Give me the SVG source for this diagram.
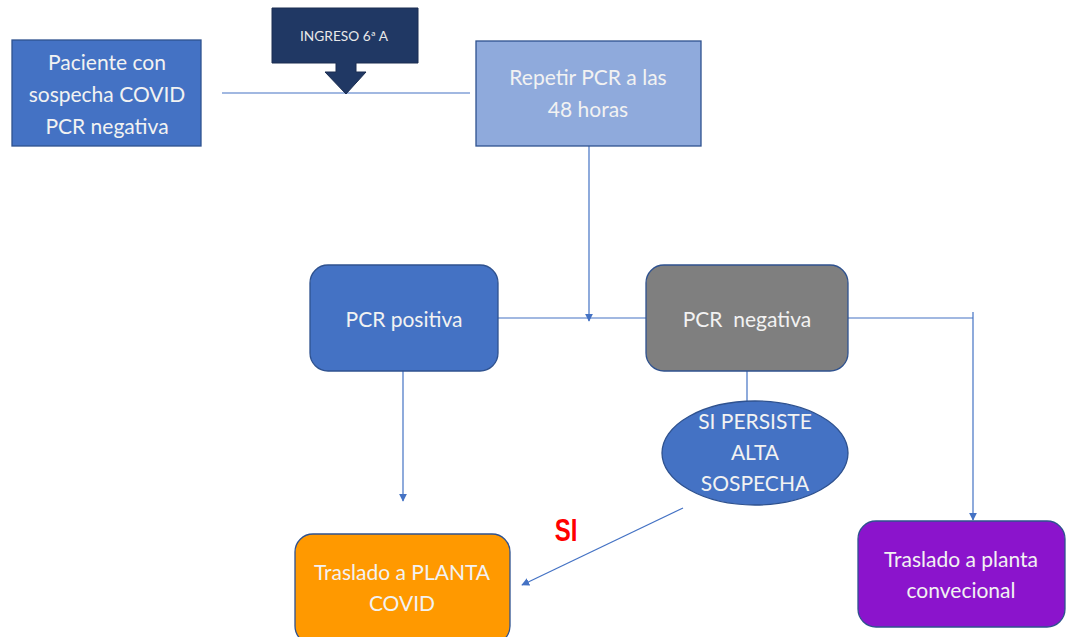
<svg xmlns="http://www.w3.org/2000/svg" width="1071" height="637" viewBox="0 0 1071 637">
<defs>
<style>
.t{font-family:Lato,"Open Sans","Liberation Sans",sans-serif;font-size:21px;fill:#F2F2F2;text-anchor:middle}
.c{stroke:#4472C4;stroke-width:1.2;fill:none}
.b{stroke:#2F528F;stroke-width:1.3}
</style>
<marker id="ah" viewBox="0 0 10 10" refX="9" refY="5" markerWidth="8" markerHeight="8" markerUnits="userSpaceOnUse" orient="auto">
<path d="M0,0 L10,5 L0,10 z" fill="#4472C4"/>
</marker>
</defs>
<rect width="1071" height="637" fill="#FFFFFF"/>
<g id="connectors">
<line class="c" x1="222" y1="93" x2="470" y2="93"/>
<line class="c" x1="589" y1="146" x2="589" y2="321" marker-end="url(#ah)"/>
<line class="c" x1="498" y1="318" x2="646" y2="318"/>
<line class="c" x1="848" y1="318" x2="973" y2="318"/>
<line class="c" x1="973" y1="312" x2="973" y2="520" marker-end="url(#ah)"/>
<line class="c" x1="747" y1="350" x2="747" y2="402"/>
<line class="c" x1="403" y1="371" x2="403" y2="501" marker-end="url(#ah)"/>
<line class="c" x1="683" y1="508" x2="522" y2="585" marker-end="url(#ah)"/>
</g>
<g id="n1">
<rect class="b" x="12" y="40" width="189" height="106" fill="#4472C4"/>
<text class="t" x="107" y="70">Paciente con</text>
<text class="t" x="107" y="102">sospecha COVID</text>
<text class="t" x="107" y="134">PCR negativa</text>
</g>
<g id="ingreso">
<path d="M272,8 H418 V63 H356 V72 H366 L346,94 L325,72 H336 V63 H272 Z" fill="#203864" stroke="#1a2d50" stroke-width="1"/>
<text x="344" y="41" font-family="'Liberation Sans Narrow',Lato,sans-serif" font-size="13" fill="#E8E8E8" text-anchor="middle" textLength="88" lengthAdjust="spacingAndGlyphs">INGRESO 6ª A</text>
</g>
<g id="n2">
<rect class="b" x="476" y="41" width="225" height="105" fill="#8FAADC"/>
<text class="t" x="588" y="85">Repetir PCR a las</text>
<text class="t" x="588" y="117">48 horas</text>
</g>
<g id="n3">
<rect class="b" x="310" y="265" width="188" height="106" rx="18" fill="#4472C4"/>
<text class="t" x="404" y="327">PCR positiva</text>
</g>
<g id="n4">
<rect class="b" x="646" y="265" width="202" height="106" rx="18" fill="#7F7F7F"/>
<text class="t" x="747" y="327" xml:space="preserve">PCR  negativa</text>
</g>
<g id="n5">
<ellipse class="b" cx="755" cy="453" rx="93" ry="52" fill="#4472C4"/>
<text class="t" x="755" y="429">SI PERSISTE</text>
<text class="t" x="755" y="460">ALTA</text>
<text class="t" x="755" y="491">SOSPECHA</text>
</g>
<g id="n6">
<rect class="b" x="295" y="534" width="215" height="110" rx="18" fill="#FF9900"/>
<text class="t" x="402" y="580">Traslado a PLANTA</text>
<text class="t" x="402" y="611">COVID</text>
</g>
<g id="n7">
<rect class="b" x="858" y="521" width="207" height="106" rx="18" fill="#8B14CC"/>
<text class="t" x="961" y="567">Traslado a planta</text>
<text class="t" x="961" y="598">convecional</text>
</g>
<text transform="translate(566,541) scale(0.75,1)" x="0" y="0" font-family="'Liberation Sans',sans-serif" font-size="32" font-weight="bold" fill="#FF0000" text-anchor="middle">SI</text>
</svg>
